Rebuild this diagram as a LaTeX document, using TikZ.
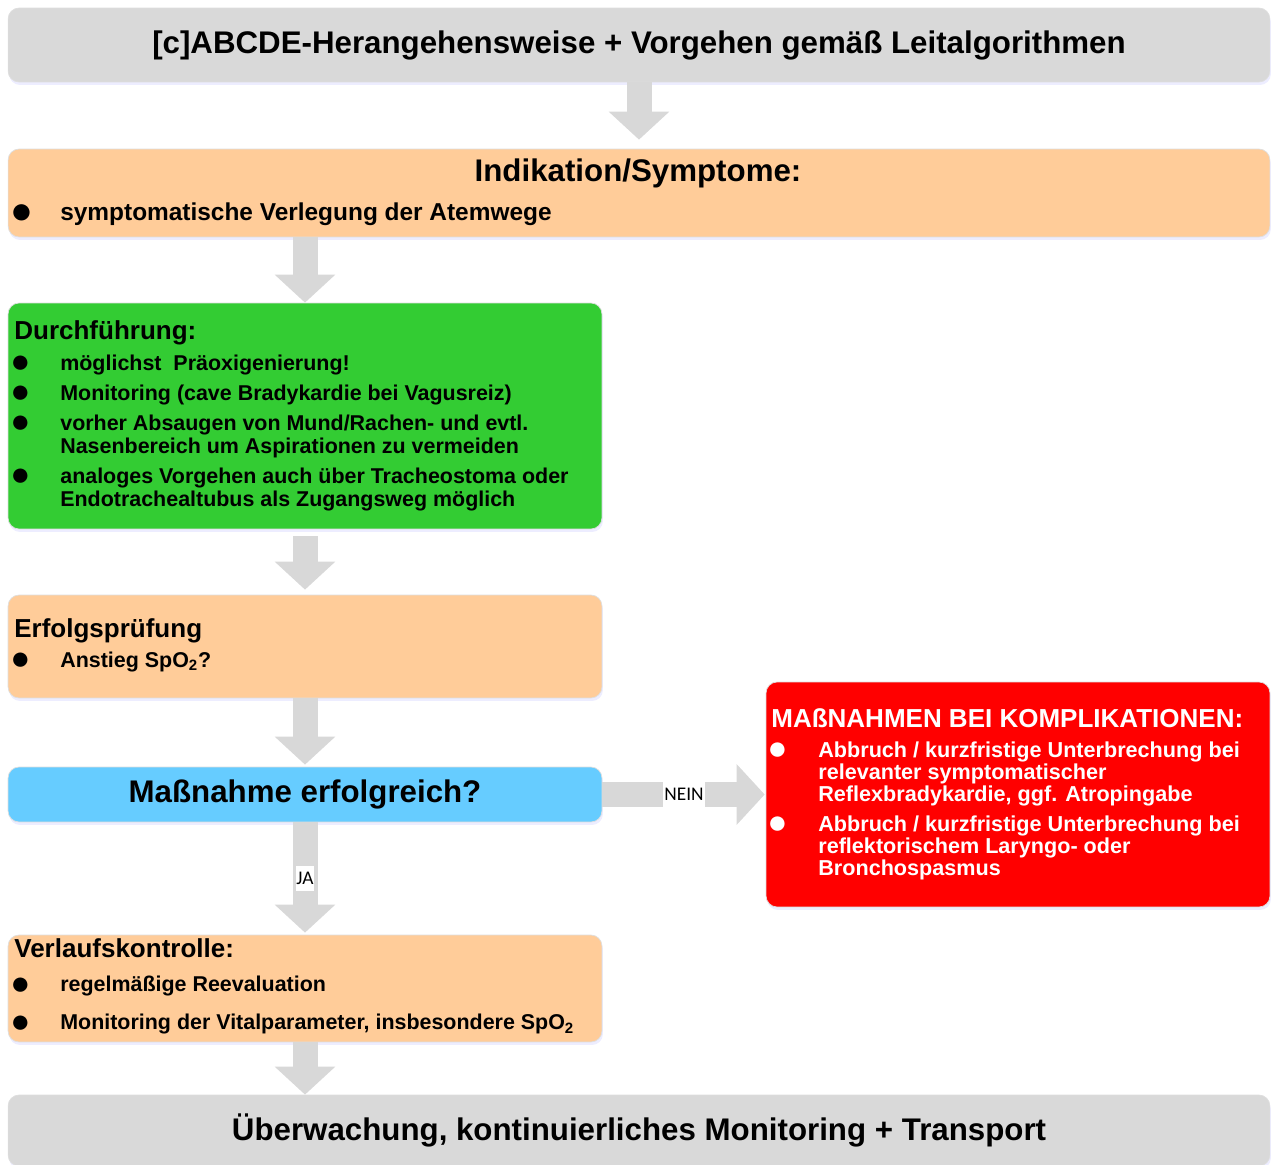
\documentclass[tikz,border=0pt]{standalone}
\usepackage{fontspec}
\usepackage{graphicx}
\setmainfont{Liberation Sans}
\newfontfamily\lblfont{Carlito}
\usetikzlibrary{arrows.meta,shadows}

\definecolor{grau}{HTML}{D9D9D9}
\definecolor{pfirsich}{HTML}{FFCC99}
\definecolor{gruen}{HTML}{33CC33}
\definecolor{hellblau}{HTML}{66CCFF}
\definecolor{rot}{HTML}{FF0000}
\definecolor{pfeilgrau}{HTML}{D8D8D8}

\newcommand{\pkt}{\hspace*{-0.08cm}\raisebox{-0.2ex}{\scalebox{1.55}{●}}}

\begin{document}
\begin{tikzpicture}[x=0.02cm,y=-0.02cm,
  box/.style={rounded corners=0.22cm, draw=black!13, line width=0.4pt, inner sep=0pt,
    drop shadow={shadow xshift=0.02cm, shadow yshift=-0.06cm, fill=blue!40, opacity=0.18}},
  pfeil/.style={draw=pfeilgrau, line width=0.5cm, -{Triangle[length=0.56cm,width=1.18cm]}},
  gross/.style={font=\fontsize{17.8}{20}\selectfont\bfseries},
  liste/.style={inner sep=0pt, anchor=base west},
  lbl/.style={fill=white, font=\lblfont\fontsize{11}{12}\selectfont, inner xsep=0.5pt, inner ysep=0pt, minimum height=0.5cm}]
\useasboundingbox (0,0) rectangle (1278,1165);

% Kaesten
\node[box, fill=grau, minimum width=25.24cm, minimum height=1.48cm, gross] (kopf) at (639,45) {[c]ABCDE-Herangehensweise + Vorgehen gemäß Leitalgorithmen};
\node[box, fill=pfirsich, minimum width=25.24cm, minimum height=1.76cm] (ind) at (639,193) {};
\node[box, fill=gruen, minimum width=11.88cm, minimum height=4.52cm] (durch) at (305,416) {};
\node[box, fill=pfirsich, minimum width=11.88cm, minimum height=2.06cm] (erfolg) at (305,646.5) {};
\node[box, fill=hellblau, minimum width=11.88cm, minimum height=1.1cm, gross] (frage) at (305,794.5) {Maßnahme erfolgreich?};
\node[box, fill=rot, minimum width=10.08cm, minimum height=4.5cm] (kompl) at (1018,794.5) {};
\node[box, fill=pfirsich, minimum width=11.88cm, minimum height=2.14cm] (verlauf) at (305,988.5) {};
\node[box, fill=grau, minimum width=25.24cm, minimum height=1.42cm, gross] (ende) at (639,1130.5) {Überwachung, kontinuierliches Monitoring + Transport};

% Texte
\node[gross, anchor=base, inner sep=0pt] (indtitel) at (638,182) {Indikation/Symptome:};
\node[liste, font=\fontsize{13.9}{15}\selectfont\bfseries] (indtxt) at (14,221) {%
\begin{tabular}[t]{@{}p{0.92cm}@{}l@{}}
\pkt & symptomatische Verlegung der Atemwege
\end{tabular}};

\node[liste, font=\fontsize{12.2}{13.1}\selectfont\bfseries] (durchtxt) at (14,340) {%
\begin{tabular}[t]{@{}p{0.92cm}@{}l@{}}
\multicolumn{2}{@{}l}{\fontsize{14.8}{16}\selectfont Durchführung:}\\[4pt]
\pkt & möglichst\ \ Präoxigenierung!\\[4pt]
\pkt & Monitoring (cave Bradykardie bei Vagusreiz)\\[4pt]
\pkt & vorher Absaugen von Mund/Rachen- und evtl.\\
 & Nasenbereich um Aspirationen zu vermeiden\\[4pt]
\pkt & analoges Vorgehen auch über Tracheostoma oder\\
 & Endotrachealtubus als Zugangsweg möglich
\end{tabular}};

\node[liste, font=\fontsize{12.2}{13.1}\selectfont\bfseries] (erfolgtxt) at (14,637) {%
\begin{tabular}[t]{@{}p{0.92cm}@{}l@{}}
\multicolumn{2}{@{}l}{\fontsize{14.8}{16}\selectfont Erfolgsprüfung}\\[4pt]
\pkt & Anstieg SpO\textsubscript{2}?
\end{tabular}};

\node[liste, text=white, font=\fontsize{12.3}{12.5}\selectfont\bfseries] (komptxt) at (771,727) {%
\begin{tabular}[t]{@{}p{0.94cm}@{}l@{}}
\multicolumn{2}{@{}l}{\fontsize{14.8}{16}\selectfont MAßNAHMEN BEI KOMPLIKATIONEN:}\\[4.6pt]
\pkt & Abbruch / kurzfristige Unterbrechung bei\\
 & relevanter symptomatischer\\
 & Reflexbradykardie, ggf. Atropingabe\\[4pt]
\pkt & Abbruch / kurzfristige Unterbrechung bei\\
 & reflektorischem Laryngo- oder\\
 & Bronchospasmus
\end{tabular}};

\node[liste, font=\fontsize{12.2}{13.1}\selectfont\bfseries] (verlauftxt) at (14,957) {%
\begin{tabular}[t]{@{}p{0.92cm}@{}l@{}}
\multicolumn{2}{@{}l}{\fontsize{14.8}{16}\selectfont Verlaufskontrolle:}\\[6.8pt]
\pkt & regelmäßige Reevaluation\\[8.5pt]
\pkt & Monitoring der Vitalparameter, insbesondere SpO\textsubscript{2}
\end{tabular}};

% Pfeile
\draw[pfeil, shorten >=0.18cm] (kopf.south) -- (ind.north);
\draw[pfeil] (durch.north |- ind.south) -- (durch.north);
\draw[pfeil, shorten <=0.14cm, shorten >=0.1cm] (durch.south) -- (erfolg.north);
\draw[pfeil, shorten >=0.04cm] (erfolg.south) -- (frage.north);
\draw[pfeil, shorten >=0.04cm] (frage.south) -- (verlauf.north) node[lbl, pos=0.5] (ja) {JA};
\draw[pfeil, shorten >=0.02cm] (frage.east) -- (kompl.west) node[lbl, pos=0.5] (nein) {NEIN};
\draw[pfeil] (verlauf.south) -- (verlauf.south |- ende.north);

\end{tikzpicture}
\end{document}
